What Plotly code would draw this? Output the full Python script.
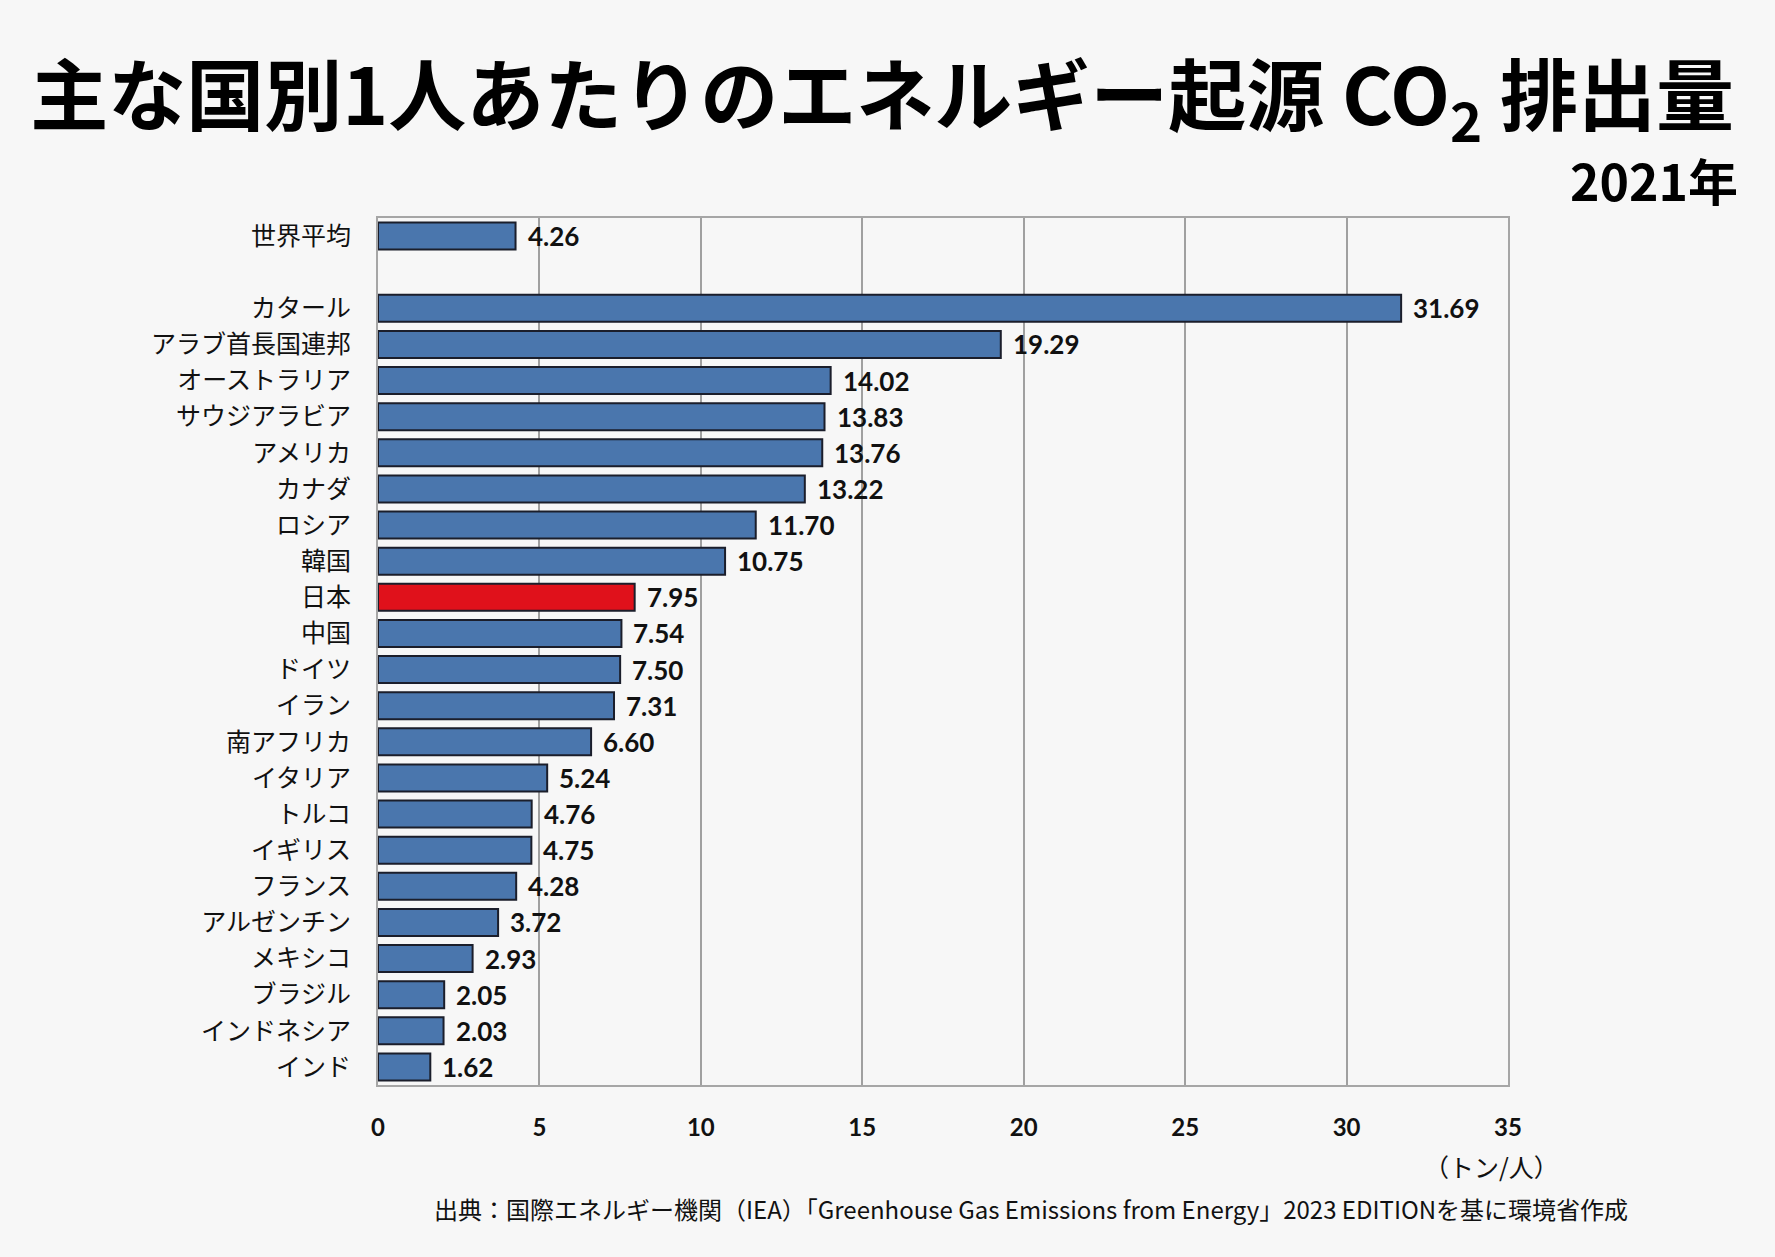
# co2_per_capita_bar.py
# -*- coding: utf-8 -*-

import plotly.graph_objects as go

# 1人あたりエネルギー起源CO2排出量（2021年, トン/人）
COUNTRIES = [
    "世界平均", " ",
    "カタール", "アラブ首長国連邦", "オーストラリア", "サウジアラビア",
    "アメリカ", "カナダ", "ロシア", "韓国", "日本", "中国", "ドイツ",
    "イラン", "南アフリカ", "イタリア", "トルコ", "イギリス", "フランス",
    "アルゼンチン", "メキシコ", "ブラジル", "インドネシア", "インド",
]
VALUES = [
    4.26, None,
    31.69, 19.29, 14.02, 13.83,
    13.76, 13.22, 11.70, 10.75, 7.95, 7.54, 7.50,
    7.31, 6.60, 5.24, 4.76, 4.75, 4.28,
    3.72, 2.93, 2.05, 2.03, 1.62,
]
X_TICKS = [0, 5, 10, 15, 20, 25, 30, 35]
HIGHLIGHT = "日本"

BLUE = "#4a76ad"
RED = "#e0111b"
BG = "#f7f7f7"
JP_FONT = "Noto Sans CJK JP"
NUM_FONT = "Lato"

colors = [RED if c == HIGHLIGHT else BLUE for c in COUNTRIES]

fig = go.Figure()
fig.add_trace(go.Bar(
    x=VALUES,
    y=COUNTRIES,
    orientation="h",
    width=0.75,
    marker=dict(color=colors, line=dict(color="#1b1e2b", width=2)),
    hoverinfo="skip",
))

# value labels just right of each bar
annotations = []
for c, v in zip(COUNTRIES, VALUES):
    if v is None:
        continue
    annotations.append(dict(
        x=v, y=c, xref="x", yref="y",
        text=f"<b>{v:.2f}</b>",
        showarrow=False, xanchor="left", xshift=10,
        font=dict(family=NUM_FONT, size=26, color="#111111"),
    ))

annotations += [
    dict(
        text="<b>2021年</b>",
        xref="paper", yref="paper", x=1.205, y=1.045,
        xanchor="right", yanchor="middle", showarrow=False,
        font=dict(family=JP_FONT, size=50, color="#000000", weight=900),
    ),
    dict(
        text="（トン/人）",
        xref="paper", yref="paper", x=0.985, y=-0.093,
        xanchor="center", yanchor="middle", showarrow=False,
        font=dict(family=JP_FONT, size=25, color="#111111"),
    ),
    dict(
        text="出典：国際エネルギー機関（IEA）「Greenhouse Gas Emissions from Energy」2023 EDITIONを基に環境省作成",
        xref="paper", yref="paper", x=0.048, y=-0.142,
        xanchor="left", yanchor="middle", showarrow=False,
        font=dict(family=JP_FONT, size=24, color="#111111"),
    ),
]

fig.update_layout(
    width=1775,
    height=1257,
    paper_bgcolor=BG,
    plot_bgcolor=BG,
    showlegend=False,
    margin=dict(l=378, r=267, t=218, b=172),
    title=dict(
        text="<b>主な国別1人あたりのエネルギー起源 CO<sub>2</sub> 排出量</b>",
        x=0.017, xanchor="left",
        y=0.922, yanchor="middle",
        font=dict(family=JP_FONT, size=78, color="#000000", weight=900),
    ),
    xaxis=dict(
        range=[0, 35],
        tickvals=X_TICKS,
        ticktext=[f"<b>{t}</b>" for t in X_TICKS],
        tickfont=dict(family=NUM_FONT, size=24, color="#111111"),
        ticks="outside", ticklen=0,
        ticklabelstandoff=20,
        showgrid=True, gridcolor="#a0a0a0", gridwidth=2,
        showline=True, linecolor="#a6a6a6", linewidth=2, mirror=True,
        zeroline=False,
        fixedrange=True,
    ),
    yaxis=dict(
        categoryorder="array",
        categoryarray=COUNTRIES,
        range=[len(COUNTRIES) - 0.5, -0.5],
        tickfont=dict(family=JP_FONT, size=25, color="#111111"),
        ticks="outside", ticklen=0,
        ticklabelstandoff=20,
        showgrid=False,
        showline=True, linecolor="#a6a6a6", linewidth=2, mirror=True,
        fixedrange=True,
    ),
    annotations=annotations,
)

fig.write_html(
    "out.html",
    config={"displayModeBar": False},
    post_script=(
        "document.body.style.margin='0';"
        "document.body.style.background='#f7f7f7';"
        "document.body.style.overflow='hidden';"
    ),
)
